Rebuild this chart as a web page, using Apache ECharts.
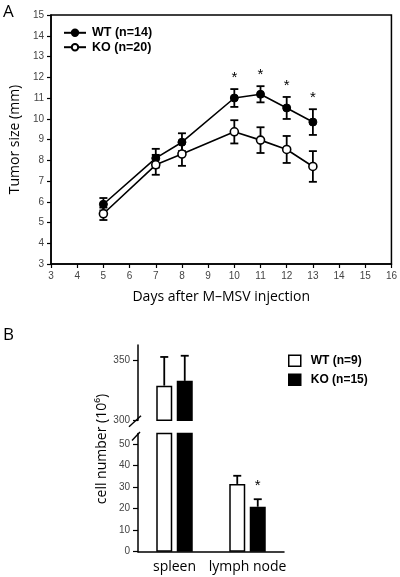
<!DOCTYPE html>
<html>
<head>
<meta charset="utf-8">
<script src="https://cdn.jsdelivr.net/npm/echarts@6/dist/echarts.min.js"></script>
<style>html,body{margin:0;padding:0;background:#fff}#c{width:400px;height:577px}</style>
</head>
<body>
<div id="c"></div>
<script>
// ---- Panel A data ----
const days = [5, 7, 8, 10, 11, 12, 13];
const wtMean = [5.88, 8.1, 8.87, 11.0, 11.18, 10.52, 9.84];
const wtErr = [0.3, 0.45, 0.43, 0.43, 0.39, 0.53, 0.62];
const koMean = [5.42, 7.78, 8.3, 9.37, 8.97, 8.52, 7.7];
const koErr = [0.3, 0.48, 0.57, 0.56, 0.62, 0.65, 0.74];
const sigDaysA = [10, 11, 12, 13];
const nameWTa = 'WT (n=14)';
const nameKOa = 'KO (n=20)';

// ---- Panel B data ----
const tissues = ['spleen', 'lymph node'];
const wtCells = [329, 31.5];
const wtCellsErr = [24, 3.8];
const koCells = [333, 20.9];
const koCellsErr = [21, 3.5];
const sigTissueB = [1]; // KO significant at lymph node
const nameWTb = 'WT (n=9)';
const nameKOb = 'KO (n=15)';
const lowTicks = [0, 10, 20, 30, 40, 50];
const highTicks = [300, 350];
const breakLow = 55, breakHigh = 300, highMax = 363;

// ---- layout (pixels) ----
const gA = {left: 50, top: 15, width: 343, height: 249};
const bAxisX = 138, bWidth = 146;
const gBhi = {left: bAxisX, top: 345, width: bWidth, height: 75.3};
const gBlo = {left: bAxisX, top: 433.4, width: bWidth, height: 118.3};
const barW = 16, barGapPx = 4.5, barOff = (barW + barGapPx) / 2;

const tickFont = 'Liberation Sans, Arial, sans-serif';
const nameFont = 'Open Sans, DejaVu Sans, sans-serif';

function errA(dataIdx) {
  return days.map((d, i) => [d, dataIdx === 0 ? wtMean[i] : koMean[i], dataIdx === 0 ? wtErr[i] : koErr[i]]);
}
function renderErrA(params, api) {
  const x = api.value(0), m = api.value(1), e = api.value(2);
  const top = api.coord([x, m + e]), bot = api.coord([x, m - e]);
  const cw = 4;
  const st = {stroke: '#000', lineWidth: 1.8};
  return {type: 'group', children: [
    {type: 'line', shape: {x1: top[0], y1: top[1], x2: bot[0], y2: bot[1]}, style: st},
    {type: 'line', shape: {x1: top[0] - cw, y1: top[1], x2: top[0] + cw, y2: top[1]}, style: st},
    {type: 'line', shape: {x1: bot[0] - cw, y1: bot[1], x2: bot[0] + cw, y2: bot[1]}, style: st}
  ]};
}
function renderStar(offY) {
  return function (params, api) {
    const p = api.coord([api.value(0), api.value(1)]);
    return {type: 'text', x: p[0] + (api.value(2) || 0), y: p[1] - offY,
      style: {text: '*', fontSize: 15, fontFamily: tickFont, fill: '#000', align: 'center', verticalAlign: 'middle'}};
  };
}
const starDataA = sigDaysA.map(d => { const i = days.indexOf(d); return [d, wtMean[i] + wtErr[i]]; });

function barErrRender(offset) {
  return function (params, api) {
    const c = api.value(0), v = api.value(1), e = api.value(2);
    if (v == null || isNaN(v)) return null;
    const p1 = api.coord([c, v]), p2 = api.coord([c, v + e]);
    const x = p1[0] + offset;
    const st = {stroke: '#000', lineWidth: 1.8};
    return {type: 'group', children: [
      {type: 'line', shape: {x1: x, y1: p1[1], x2: x, y2: p2[1]}, style: st},
      {type: 'line', shape: {x1: x - 4, y1: p2[1], x2: x + 4, y2: p2[1]}, style: st}
    ]};
  };
}
function errDataB(vals, errs, high) {
  return vals.map((v, i) => (high ? v > breakHigh : v <= breakLow) ? [i, v, errs[i]] : [i, null, null]);
}
const starDataB = sigTissueB.map(i => [i, koCells[i] + koCellsErr[i], barOff]);

const wtStyle = {color: '#fff', borderColor: '#000', borderWidth: 1.5};
const koStyle = {color: '#000', borderColor: '#000', borderWidth: 1.5};

const chart = echarts.init(document.getElementById('c'), null, {renderer: 'canvas'});
const option = {
  animation: false,
  backgroundColor: '#fff',
  grid: [
    Object.assign({show: true, borderColor: '#000', borderWidth: 1.5, backgroundColor: 'transparent'}, gA),
    gBhi, gBlo
  ],
  legend: [
    {data: [nameWTa, nameKOa], orient: 'vertical', left: 63, top: 26.3, itemWidth: 22, itemHeight: 8, itemGap: 1.4,
     padding: 0, selectedMode: false,
     textStyle: {fontFamily: tickFont, fontWeight: 'bold', fontSize: 12.5, color: '#000', lineHeight: 12, padding: [0, 0, 0, 1]}},
    {data: [{name: nameWTb, icon: 'rect', itemStyle: wtStyle}, {name: nameKOb, icon: 'rect', itemStyle: koStyle}],
     orient: 'vertical', left: 288, top: 354.5, itemWidth: 12, itemHeight: 11, itemGap: 6.5, padding: 0, selectedMode: false,
     textStyle: {fontFamily: tickFont, fontWeight: 'bold', fontSize: 12, color: '#000', lineHeight: 11, padding: [0, 0, 0, 5]}}
  ],
  xAxis: [
    {gridIndex: 0, type: 'value', min: 3, max: 16, interval: 1,
     name: 'Days after M–MSV injection', nameLocation: 'middle', nameGap: 26,
     nameTextStyle: {fontFamily: nameFont, fontSize: 14, color: '#000'},
     axisLine: {lineStyle: {color: '#000', width: 1.5}},
     axisTick: {inside: false, length: 4, lineStyle: {color: '#000', width: 1.2}},
     axisLabel: {fontFamily: tickFont, fontSize: 10, color: '#444', margin: 7},
     splitLine: {show: false}},
    {gridIndex: 1, type: 'category', data: tissues, show: false},
    {gridIndex: 2, type: 'category', data: tissues,
     axisLine: {lineStyle: {color: '#000', width: 1.5}},
     axisTick: {show: false},
     axisLabel: {interval: 0, fontFamily: nameFont, fontSize: 14, color: '#000', margin: 8},
     splitLine: {show: false}}
  ],
  yAxis: [
    {gridIndex: 0, type: 'value', min: 3, max: 15, interval: 1,
     name: 'Tumor size (mm)', nameLocation: 'middle', nameGap: 29,
     nameTextStyle: {fontFamily: nameFont, fontSize: 14, color: '#000'},
     axisLine: {show: true, lineStyle: {color: '#000', width: 1.5}},
     axisTick: {show: true, length: 4, lineStyle: {color: '#000', width: 1.2}},
     axisLabel: {fontFamily: tickFont, fontSize: 10, color: '#444', margin: 7},
     splitLine: {show: false}},
    {gridIndex: 1, type: 'value', min: breakHigh, max: highMax,
     axisLine: {show: true, lineStyle: {color: '#000', width: 1.5}},
     axisTick: {show: true, length: 5, customValues: highTicks, lineStyle: {color: '#000', width: 1.2}},
     axisLabel: {fontFamily: tickFont, fontSize: 10, color: '#444', margin: 8, customValues: highTicks},
     splitLine: {show: false}},
    {gridIndex: 2, type: 'value', min: 0, max: breakLow,
     axisLine: {show: true, lineStyle: {color: '#000', width: 1.5}},
     axisTick: {show: true, length: 5, customValues: lowTicks, lineStyle: {color: '#000', width: 1.2}},
     axisLabel: {fontFamily: tickFont, fontSize: 10, color: '#444', margin: 8, customValues: lowTicks},
     splitLine: {show: false}}
  ],
  series: [
    // Panel A
    {type: 'custom', name: 'errWTa', xAxisIndex: 0, yAxisIndex: 0, z: 1, renderItem: renderErrA, data: errA(0)},
    {type: 'custom', name: 'errKOa', xAxisIndex: 0, yAxisIndex: 0, z: 1, renderItem: renderErrA, data: errA(1)},
    {type: 'line', name: nameWTa, xAxisIndex: 0, yAxisIndex: 0, z: 3,
     data: days.map((d, i) => [d, wtMean[i]]), symbol: 'circle', symbolSize: 8, showAllSymbol: true,
     lineStyle: {color: '#000', width: 1.6}, itemStyle: {color: '#000', borderColor: '#000', borderWidth: 1}},
    {type: 'line', name: nameKOa, xAxisIndex: 0, yAxisIndex: 0, z: 3,
     data: days.map((d, i) => [d, koMean[i]]), symbol: 'circle', symbolSize: 8, showAllSymbol: true,
     lineStyle: {color: '#000', width: 1.6}, itemStyle: {color: '#fff', borderColor: '#000', borderWidth: 1.6}},
    {type: 'custom', name: 'starA', xAxisIndex: 0, yAxisIndex: 0, z: 4, renderItem: renderStar(11.5), data: starDataA},
    // Panel B upper segment
    {type: 'bar', name: nameWTb, xAxisIndex: 1, yAxisIndex: 1, barWidth: barW, barGap: (barGapPx / barW * 100) + '%',
     clip: true, itemStyle: wtStyle, data: wtCells.map(v => v > breakHigh ? v : null)},
    {type: 'bar', name: nameKOb, xAxisIndex: 1, yAxisIndex: 1, barWidth: barW,
     clip: true, itemStyle: koStyle, data: koCells.map(v => v > breakHigh ? v : null)},
    // Panel B lower segment
    {type: 'bar', name: nameWTb, xAxisIndex: 2, yAxisIndex: 2, barWidth: barW, barGap: (barGapPx / barW * 100) + '%',
     clip: true, itemStyle: wtStyle, data: wtCells},
    {type: 'bar', name: nameKOb, xAxisIndex: 2, yAxisIndex: 2, barWidth: barW,
     clip: true, itemStyle: koStyle, data: koCells},
    // Panel B error bars
    {type: 'custom', name: 'errWTbHi', xAxisIndex: 1, yAxisIndex: 1, z: 1, renderItem: barErrRender(-barOff), data: errDataB(wtCells, wtCellsErr, true)},
    {type: 'custom', name: 'errKObHi', xAxisIndex: 1, yAxisIndex: 1, z: 1, renderItem: barErrRender(barOff), data: errDataB(koCells, koCellsErr, true)},
    {type: 'custom', name: 'errWTbLo', xAxisIndex: 2, yAxisIndex: 2, z: 1, renderItem: barErrRender(-barOff), data: errDataB(wtCells, wtCellsErr, false)},
    {type: 'custom', name: 'errKObLo', xAxisIndex: 2, yAxisIndex: 2, z: 1, renderItem: barErrRender(barOff), data: errDataB(koCells, koCellsErr, false)},
    {type: 'custom', name: 'starB', xAxisIndex: 2, yAxisIndex: 2, z: 4, renderItem: renderStar(13), data: starDataB}
  ],
  graphic: [
    {type: 'text', left: 3, top: 4, style: {text: 'A', fontFamily: nameFont, fontSize: 17, fill: '#000'}},
    {type: 'text', left: 3, top: 327, style: {text: 'B', fontFamily: nameFont, fontSize: 17, fill: '#000'}},
    {type: 'text', x: 102, y: 449, rotation: Math.PI / 2,
     style: {text: 'cell number (10⁶)', fontFamily: nameFont, fontSize: 14, fill: '#000', align: 'center', verticalAlign: 'middle'}},
    {type: 'line', shape: {x1: bAxisX - 9, y1: gBhi.top + gBhi.height + 6.5, x2: bAxisX + 3, y2: gBhi.top + gBhi.height - 4.5},
     style: {stroke: '#000', lineWidth: 1.4}},
    {type: 'line', shape: {x1: bAxisX - 6, y1: gBlo.top + 7, x2: bAxisX + 2, y2: gBlo.top - 1.5},
     style: {stroke: '#000', lineWidth: 1.4}}
  ]
};
chart.setOption(option);
</script>
</body>
</html>
